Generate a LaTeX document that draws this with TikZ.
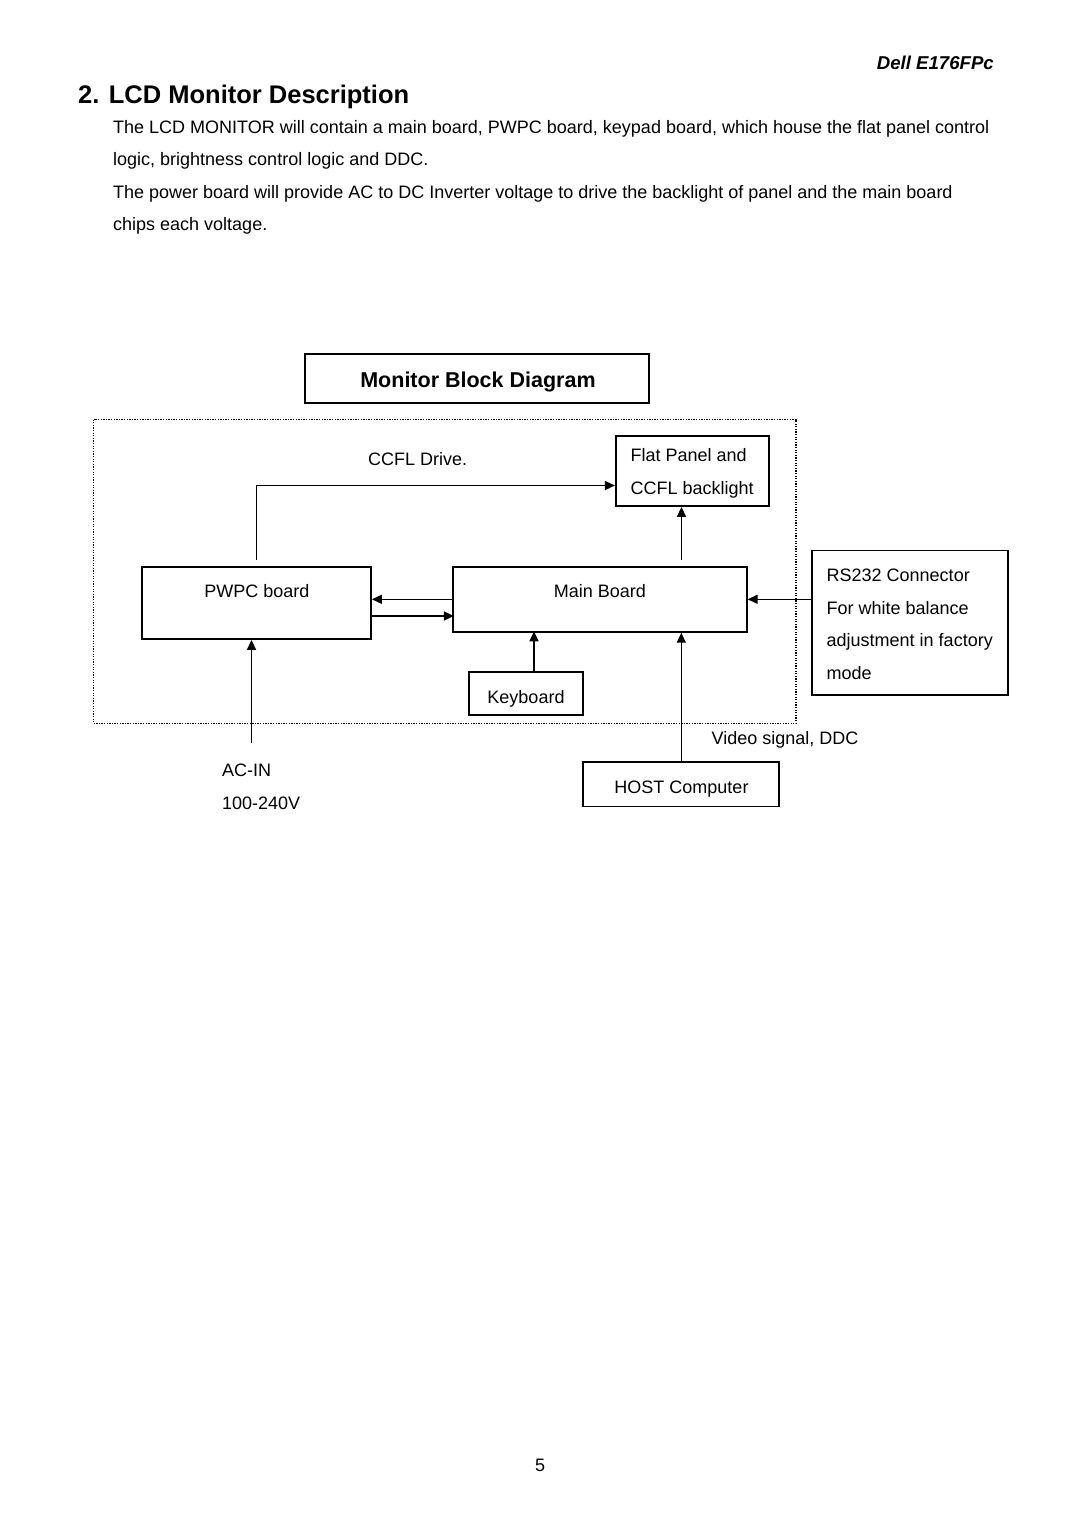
\documentclass[tikz,border=0pt]{standalone}
\usepackage{fontspec}
\setmainfont{Liberation Sans}
\usetikzlibrary{arrows.meta}
\begin{document}
\begin{tikzpicture}[x=1pt,y=-1pt,
  txt/.style={inner sep=0pt,font=\fontsize{18}{18}\selectfont},
  boxnode/.style={draw,line width=1.8pt,inner sep=0pt},
  arr/.style={line width=1.5pt,-{Triangle[length=10pt,width=9pt]}},
  conn/.style={line width=1.5pt}]
\useasboundingbox (0,0) rectangle (1080,1527);
\fill[white] (0,0) rectangle (1080,1527);
% header texts
\node[txt,anchor=base east,font=\fontsize{18.6}{18.6}\selectfont\bfseries\itshape] (hdr) at (994,69.5) {Dell E176FPc};
\node[txt,anchor=base west,font=\fontsize{25.5}{25.5}\selectfont\bfseries] (title) at (78,103.5) {2. LCD Monitor Description};
\node[txt,anchor=base west] (p1) at (113,133.5) {The LCD MONITOR will contain a main board, PWPC board, keypad board, which house the flat panel control};
\node[txt,anchor=base west] (p2) at (113,165.5) {logic, brightness control logic and DDC.};
\node[txt,anchor=base west] (p3) at (113,198.5) {The power board will provide AC to DC Inverter voltage to drive the backlight of panel and the main board};
\node[txt,anchor=base west] (p4) at (113,230.5) {chips each voltage.};
% diagram title box
\node[boxnode,line width=1.5pt,minimum width=344pt,minimum height=49pt] (tbox) at (477,378.5) {};
\node[txt,anchor=base,font=\fontsize{21.5}{21.5}\selectfont\bfseries] (tboxt) at (478,387) {Monitor Block Diagram};
% dotted frame
\draw[line width=1.5pt,dash pattern=on 1.3pt off 1.3pt] (93.5,419.5) rectangle (796,723.5);
% boxes
\node[boxnode,minimum width=153pt,minimum height=70pt] (flat) at (692.3,471) {};
\node[txt,anchor=base west] (flat1) at (630.5,461.5) {Flat Panel and};
\node[txt,anchor=base west] (flat2) at (630.5,494.5) {CCFL backlight};
\node[boxnode,minimum width=229pt,minimum height=72pt] (pwpc) at (256.5,603) {};
\node[txt,anchor=base] (pwpct) at (257,597.5) {PWPC board};
\node[boxnode,minimum width=294pt,minimum height=65pt] (main) at (599.7,599.3) {};
\node[txt,anchor=base] (maint) at (600,597.5) {Main Board};
\node[boxnode,minimum width=196.5pt,minimum height=144.5pt] (rs) at (910,622.8) {};
\node[txt,anchor=base west] (rs1) at (826.5,581.5) {RS232 Connector};
\node[txt,anchor=base west] (rs2) at (826.5,614) {For white balance};
\node[txt,anchor=base west] (rs3) at (826.5,646.5) {adjustment in factory};
\node[txt,anchor=base west] (rs4) at (826.5,679) {mode};
\node[boxnode,minimum width=114pt,minimum height=43pt] (kb) at (525.7,693.8) {};
\node[txt,anchor=base] (kbt) at (526,703) {Keyboard};
\node[boxnode,minimum width=196pt,minimum height=44.5pt] (host) at (681.3,784.3) {};
\node[txt,anchor=base] (hostt) at (681.5,793) {HOST Computer};
% free labels
\node[txt,anchor=base west] (ccfl) at (368,465.5) {CCFL Drive.};
\node[txt,anchor=base west] (video) at (711.5,744.5) {Video signal, DDC};
\node[txt,anchor=base west] (acin) at (222,776.5) {AC-IN};
\node[txt,anchor=base west] (volt) at (222,809) {100-240V};
\node[txt,anchor=base] (pg) at (540,1471.5) {5};
% connectors
\coordinate (ptop) at (256.7,560);
\coordinate (mtop) at (681.5,560);
\coordinate (acbot) at (251.5,743);
\draw[arr] (ptop) |- ([yshift=-14.5pt]flat.west);
\draw[arr] (mtop) -- (mtop |- flat.south);
\draw[arr] (main.west) -- (main.west -| pwpc.east);
\draw[arr] ([yshift=-13pt]pwpc.east) -- ++(82,0);
\draw[arr] (rs.west |- main.east) -- (main.east);
\draw[arr] ([xshift=8.3pt]kb.north) -- ++(0,-40);
\draw[arr] (host.north) -- (host.north |- main.south);
\draw[arr] (acbot) -- (acbot |- pwpc.south);
\end{tikzpicture}
\end{document}
